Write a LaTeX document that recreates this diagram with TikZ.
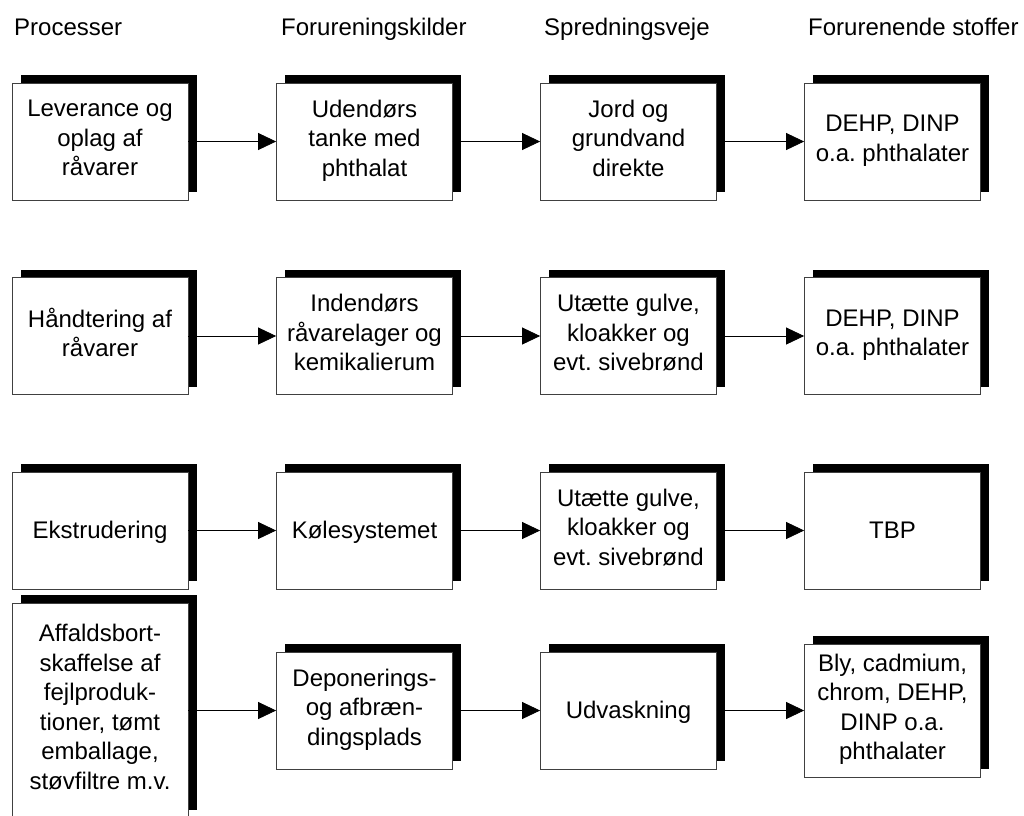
\documentclass[tikz,border=0pt]{standalone}
\usepackage{fontspec}
\setmainfont{Liberation Sans}
\usetikzlibrary{shadows, arrows.meta}
\frenchspacing
\newcommand{\boxstrut}{\rule[-7pt]{0pt}{29.5pt}}

\begin{document}
\begin{tikzpicture}[x=1pt, y=-1pt,
  box/.style={draw=black!75, line width=0.8pt, fill=white, minimum width=176pt,
    minimum height=117pt, inner sep=0pt, align=center,
    font=\fontsize{24}{29.5}\selectfont,
    execute at begin node=\boxstrut, execute at end node=\boxstrut,
    general shadow={fill=black, shadow xshift=8.5pt, shadow yshift=8pt}},
  head/.style={anchor=base west, inner sep=0pt, font=\fontsize{24}{29.5}\selectfont},
  arr/.style={-{Triangle[length=18pt, width=17pt]}, line width=0.8pt}]
\useasboundingbox (0,0) rectangle (1024,815);

% Column headings
\node[head] (hproc) at (14,35) {Processer};
\node[head] (hkild) at (281,35) {Forureningskilder};
\node[head] (hspr) at (544,35) {Spredningsveje};
\node[head] (hstof) at (808,35) {Forurenende stoffer};

% Row 1
\node[box] (p1) at (100,141.5) {Leverance og\\oplag af\\råvarer};
\node[box] (k1) at (364.5,141.5) {Udendørs\\tanke med\\phthalat};
\node[box] (s1) at (628.5,141.5) {Jord og\\grundvand\\direkte};
\node[box] (f1) at (892.5,141.5) {DEHP, DINP\\o.a. phthalater};

% Row 2
\node[box] (p2) at (100,336) {Håndtering af\\råvarer};
\node[box] (k2) at (364.5,336) {Indendørs\\råvarelager og\\kemikalierum};
\node[box] (s2) at (628.5,336) {Utætte gulve,\\kloakker og\\evt. sivebrønd};
\node[box] (f2) at (892.5,336) {DEHP, DINP\\o.a. phthalater};

% Row 3
\node[box] (p3) at (100,530.5) {Ekstrudering};
\node[box] (k3) at (364.5,530.5) {Kølesystemet};
\node[box] (s3) at (628.5,530.5) {Utætte gulve,\\kloakker og\\evt. sivebrønd};
\node[box] (f3) at (892.5,530.5) {TBP};

% Row 4
\node[box, minimum height=215pt] (p4) at (100,710.5) {Affaldsbort-\\skaffelse af\\fejlproduk-\\tioner, tømt\\emballage,\\støvfiltre m.v.};
\node[box] (k4) at (364.5,710.5) {Deponerings-\\og afbræn-\\dingsplads};
\node[box] (s4) at (628.5,710.5) {Udvaskning};
\node[box, minimum height=133pt] (f4) at (892.5,710.5) {Bly, cadmium,\\chrom, DEHP,\\DINP o.a.\\phthalater};

% Connectors
\foreach \r in {1,...,4} {
  \draw[arr] (p\r) -- (k\r);
  \draw[arr] (k\r) -- (s\r);
  \draw[arr] (s\r) -- (f\r);
}
\end{tikzpicture}
\end{document}
